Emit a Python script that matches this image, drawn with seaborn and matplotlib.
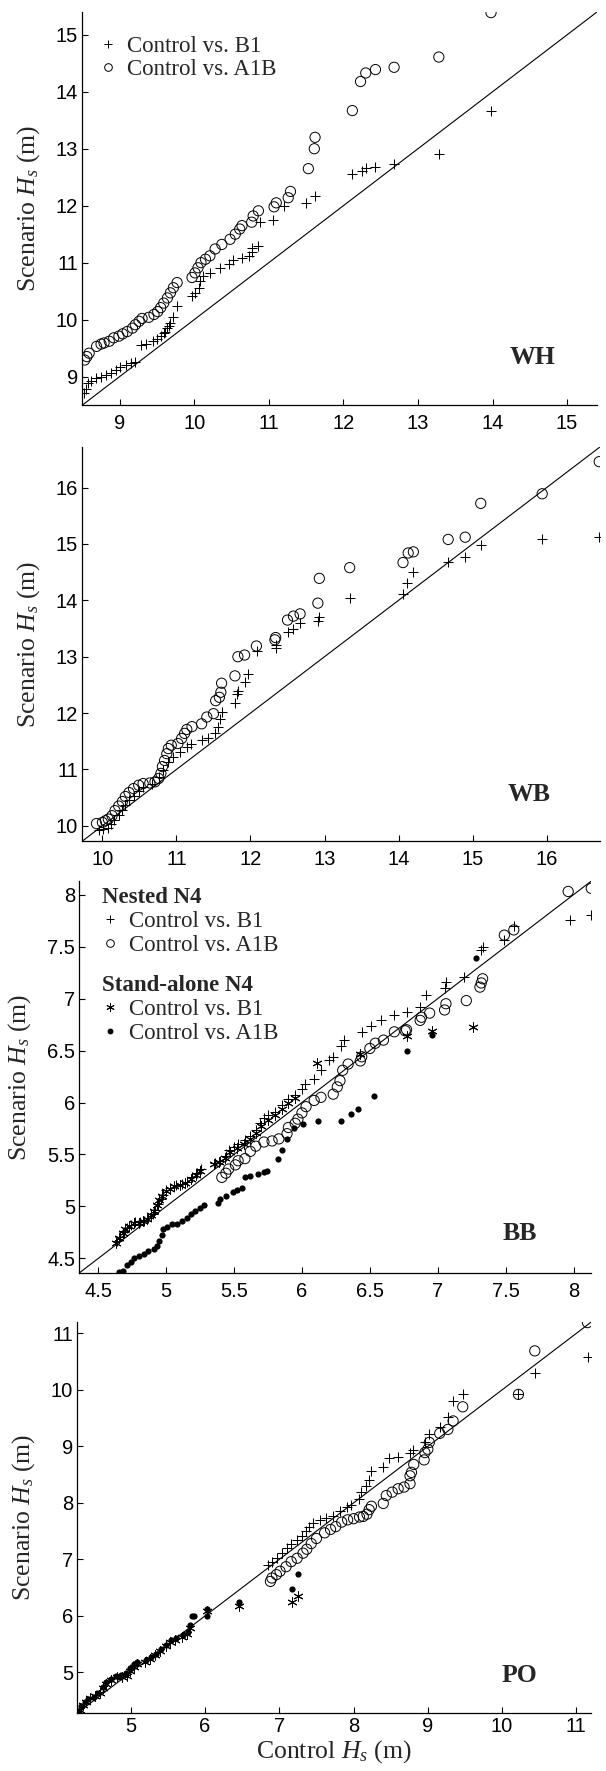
import matplotlib
matplotlib.use("Agg")
import matplotlib.pyplot as plt
import seaborn as sns
from matplotlib.lines import Line2D
from matplotlib.ticker import FuncFormatter

# ---- data (quantile pairs) ----
# WH
wh_b1_x = [8.52, 8.55, 8.57, 8.61, 8.68, 8.75, 8.81, 8.88, 8.95, 9.01, 9.08, 9.15, 9.21, 9.28, 9.35,
           9.44, 9.50, 9.55, 9.59, 9.61, 9.64, 9.66, 9.68, 9.72, 9.77, 9.97, 10.01, 10.06, 10.08, 10.12,
           10.21, 10.35, 10.47, 10.52, 10.64, 10.74, 10.77, 10.78, 10.85, 10.88, 11.05, 11.21, 11.50,
           11.62, 12.11, 12.25, 12.30, 12.43, 12.68, 13.28, 13.98]
wh_b1_y = [8.71, 8.79, 8.88, 8.92, 8.97, 9.00, 9.03, 9.07, 9.12, 9.16, 9.21, 9.24, 9.26, 9.56, 9.57,
           9.62, 9.66, 9.71, 9.76, 9.78, 9.85, 9.88, 9.94, 10.04, 10.24, 10.41, 10.47, 10.56, 10.68, 10.76,
           10.81, 10.90, 10.97, 11.04, 11.09, 11.12, 11.18, 11.26, 11.29, 11.71, 11.74, 12.00, 12.04,
           12.17, 12.55, 12.61, 12.67, 12.68, 12.73, 12.91, 13.67]
wh_a1b_x = [8.53, 8.56, 8.59, 8.69, 8.75, 8.79, 8.86, 8.92, 8.99, 9.04, 9.10, 9.17, 9.21, 9.26, 9.30,
            9.39, 9.46, 9.51, 9.55, 9.59, 9.64, 9.68, 9.72, 9.77, 9.97, 10.01, 10.05, 10.09, 10.15, 10.21,
            10.28, 10.37, 10.48, 10.55, 10.61, 10.64, 10.77, 10.79, 10.86, 11.07, 11.10, 11.26, 11.29,
            11.53, 11.61, 11.62, 12.12, 12.23, 12.30, 12.43, 12.68, 13.28, 13.98]
wh_a1b_y = [9.29, 9.35, 9.41, 9.53, 9.57, 9.59, 9.62, 9.68, 9.71, 9.75, 9.79, 9.85, 9.91, 9.97, 10.02,
            10.04, 10.09, 10.14, 10.21, 10.29, 10.38, 10.47, 10.56, 10.65, 10.74, 10.82, 10.91, 11.00, 11.06,
            11.12, 11.24, 11.32, 11.41, 11.50, 11.59, 11.65, 11.71, 11.82, 11.91, 11.98, 12.05, 12.14,
            12.25, 12.65, 13.00, 13.20, 13.67, 14.18, 14.33, 14.39, 14.43, 14.61, 15.39]

# WB
wb_b1_x = [9.95, 10.01, 10.07, 10.12, 10.16, 10.22, 10.26, 10.31, 10.36, 10.42, 10.49, 10.55, 10.67,
           10.76, 10.82, 10.89, 10.96, 11.05, 11.14, 11.20, 11.34, 11.43, 11.52, 11.56, 11.59, 11.61,
           11.79, 11.82, 11.83, 11.93, 11.97, 12.09, 12.34, 12.34, 12.50, 12.58, 12.67, 12.91, 12.92,
           13.34, 14.06, 14.12, 14.20, 14.67, 14.90, 15.11, 15.94, 16.71]
wb_b1_y = [9.93, 9.94, 9.96, 10.04, 10.11, 10.19, 10.28, 10.37, 10.46, 10.53, 10.62, 10.69, 10.74,
           10.87, 10.99, 11.14, 11.22, 11.31, 11.40, 11.45, 11.53, 11.55, 11.64, 11.75, 11.90, 12.02,
           12.18, 12.33, 12.39, 12.55, 12.69, 13.11, 13.16, 13.21, 13.44, 13.50, 13.60, 13.64, 13.70,
           14.04, 14.11, 14.30, 14.50, 14.68, 14.77, 14.99, 15.09, 15.12]
wb_a1b_x = [9.92, 10.00, 10.04, 10.08, 10.13, 10.17, 10.22, 10.27, 10.31, 10.36, 10.42, 10.49, 10.55,
            10.64, 10.71, 10.76, 10.79, 10.81, 10.84, 10.87, 10.89, 10.93, 11.02, 11.07, 11.11, 11.14,
            11.21, 11.34, 11.41, 11.50, 11.53, 11.58, 11.60, 11.61, 11.79, 11.83, 11.92, 12.08, 12.33,
            12.34, 12.50, 12.58, 12.67, 12.91, 12.93, 13.34, 14.06, 14.13, 14.20, 14.67, 14.90, 15.11,
            15.94, 16.71]
wb_a1b_y = [10.04, 10.06, 10.09, 10.12, 10.18, 10.27, 10.35, 10.43, 10.52, 10.59, 10.66, 10.72, 10.75,
            10.76, 10.78, 10.84, 10.93, 11.05, 11.16, 11.28, 11.37, 11.43, 11.46, 11.55, 11.64, 11.71,
            11.76, 11.81, 11.93, 11.99, 12.22, 12.28, 12.37, 12.53, 12.66, 13.00, 13.03, 13.19, 13.30,
            13.34, 13.65, 13.72, 13.76, 13.95, 14.39, 14.58, 14.67, 14.84, 14.86, 15.08, 15.12, 15.72,
            15.89, 16.46]

# BB
bb_nb1_x = [4.64, 4.66, 4.69, 4.71, 4.74, 4.77, 4.81, 4.84, 4.87, 4.90, 4.92, 4.94, 4.96, 4.98, 5.00,
            5.03, 5.07, 5.12, 5.15, 5.19, 5.23, 5.26, 5.36, 5.40, 5.44, 5.46, 5.50, 5.53, 5.58, 5.62,
            5.66, 5.69, 5.72, 5.75, 5.80, 5.85, 5.90, 5.95, 6.00, 6.02, 6.09, 6.14, 6.20, 6.23, 6.29,
            6.31, 6.44, 6.51, 6.58, 6.68, 6.77, 6.87, 6.91, 7.05, 7.06, 7.19, 7.32, 7.33, 7.49, 7.56,
            7.97, 8.13]
bb_nb1_y = [4.67, 4.71, 4.75, 4.79, 4.82, 4.85, 4.85, 4.86, 4.89, 4.93, 4.97, 5.02, 5.07, 5.11, 5.16,
            5.18, 5.21, 5.22, 5.24, 5.28, 5.32, 5.36, 5.42, 5.44, 5.49, 5.54, 5.57, 5.60, 5.64, 5.68,
            5.74, 5.80, 5.85, 5.88, 5.91, 5.98, 6.03, 6.07, 6.13, 6.18, 6.23, 6.31, 6.41, 6.44, 6.54,
            6.60, 6.68, 6.74, 6.79, 6.84, 6.87, 6.92, 7.03, 7.10, 7.16, 7.21, 7.47, 7.50, 7.56, 7.70,
            7.76, 7.80]
bb_na1b_x = [5.41, 5.44, 5.46, 5.51, 5.53, 5.58, 5.62, 5.66, 5.72, 5.78, 5.83, 5.89, 5.90, 5.95, 5.97,
             6.00, 6.03, 6.09, 6.14, 6.23, 6.26, 6.28, 6.30, 6.34, 6.43, 6.44, 6.50, 6.54, 6.60, 6.68,
             6.76, 6.77, 6.87, 6.88, 6.94, 7.05, 7.06, 7.21, 7.31, 7.32, 7.33, 7.49, 7.56, 7.96, 8.13]
bb_na1b_y = [5.28, 5.32, 5.36, 5.40, 5.44, 5.46, 5.53, 5.58, 5.62, 5.63, 5.65, 5.70, 5.76, 5.80, 5.84,
             5.90, 5.96, 6.02, 6.05, 6.08, 6.15, 6.21, 6.31, 6.37, 6.40, 6.44, 6.52, 6.57, 6.60, 6.68,
             6.69, 6.70, 6.79, 6.82, 6.86, 6.89, 6.95, 6.98, 7.11, 7.15, 7.19, 7.61, 7.66, 8.03, 8.06]
bb_sb1_x = [4.63, 4.65, 4.68, 4.70, 4.73, 4.76, 4.80, 4.83, 4.86, 4.89, 4.91, 4.93, 4.95, 4.97, 5.00,
            5.03, 5.06, 5.10, 5.14, 5.18, 5.22, 5.25, 5.35, 5.39, 5.43, 5.47, 5.52, 5.57, 5.62, 5.66,
            5.70, 5.75, 5.80, 5.85, 5.90, 5.95, 6.11, 6.43, 6.77, 6.96, 7.26]
bb_sb1_y = [4.65, 4.70, 4.74, 4.78, 4.81, 4.84, 4.84, 4.86, 4.88, 4.92, 4.96, 5.01, 5.06, 5.10, 5.15,
            5.17, 5.20, 5.21, 5.23, 5.26, 5.30, 5.34, 5.41, 5.43, 5.47, 5.52, 5.56, 5.60, 5.65, 5.71,
            5.77, 5.83, 5.88, 5.94, 6.00, 6.04, 6.38, 6.47, 6.64, 6.69, 6.73]
bb_sa1b_x = [4.65, 4.68, 4.71, 4.74, 4.76, 4.80, 4.84, 4.87, 4.91, 4.93, 4.95, 4.97, 4.98, 5.01, 5.04,
             5.08, 5.12, 5.15, 5.18, 5.21, 5.25, 5.28, 5.38, 5.40, 5.44, 5.49, 5.52, 5.56, 5.58, 5.62,
             5.68, 5.72, 5.74, 5.82, 5.85, 5.89, 5.94, 6.01, 6.12, 6.29, 6.36, 6.41, 6.53, 6.77, 6.96,
             7.28]
bb_sa1b_y = [4.37, 4.38, 4.44, 4.47, 4.50, 4.52, 4.54, 4.57, 4.59, 4.62, 4.67, 4.73, 4.78, 4.80, 4.83,
             4.83, 4.86, 4.89, 4.93, 4.96, 4.99, 5.01, 5.03, 5.07, 5.10, 5.14, 5.16, 5.18, 5.28, 5.29,
             5.31, 5.33, 5.34, 5.46, 5.54, 5.65, 5.75, 5.79, 5.82, 5.82, 5.89, 5.94, 6.06, 6.50, 6.65,
             7.39]

# PO
po_nb1_x = [6.85, 6.90, 6.97, 7.03, 7.11, 7.16, 7.24, 7.30, 7.36, 7.40, 7.45, 7.55, 7.63, 7.72, 7.82,
            7.91, 7.97, 8.07, 8.10, 8.17, 8.21, 8.24, 8.39, 8.48, 8.60, 8.76, 8.80, 8.96, 9.02, 9.17,
            9.27, 9.34, 9.47, 10.22, 10.44, 11.15]
po_nb1_y = [6.90, 6.96, 7.02, 7.11, 7.20, 7.28, 7.34, 7.41, 7.51, 7.58, 7.65, 7.69, 7.74, 7.76, 7.86,
            7.92, 7.96, 8.06, 8.19, 8.29, 8.40, 8.56, 8.63, 8.79, 8.81, 8.88, 8.93, 9.07, 9.22, 9.34,
            9.52, 9.80, 9.92, 9.93, 10.30, 10.58]
po_na1b_x = [6.88, 6.90, 6.96, 7.01, 7.09, 7.16, 7.24, 7.32, 7.37, 7.43, 7.50, 7.61, 7.69, 7.76, 7.84,
             7.92, 8.00, 8.08, 8.13, 8.18, 8.21, 8.24, 8.40, 8.44, 8.52, 8.60, 8.68, 8.76, 8.76, 8.78,
             8.81, 8.95, 8.96, 9.00, 9.02, 9.16, 9.27, 9.34, 9.47, 10.22, 10.44, 11.15]
po_na1b_y = [6.61, 6.67, 6.73, 6.79, 6.87, 6.96, 7.02, 7.11, 7.18, 7.28, 7.37, 7.47, 7.53, 7.58, 7.66,
             7.70, 7.72, 7.75, 7.76, 7.80, 7.88, 7.94, 7.99, 8.13, 8.19, 8.25, 8.28, 8.34, 8.48, 8.54,
             8.68, 8.76, 8.89, 8.95, 9.07, 9.23, 9.30, 9.45, 9.70, 9.92, 10.69, 11.19]
po_sb1_x = [4.31, 4.36, 4.40, 4.45, 4.52, 4.58, 4.63, 4.67, 4.74, 4.81, 4.88, 4.95, 4.99, 5.04, 5.08,
            5.19, 5.26, 5.33, 5.40, 5.47, 5.53, 5.60, 5.69, 5.76, 5.80, 6.02, 6.46, 7.17, 7.25]
po_sb1_y = [4.33, 4.42, 4.48, 4.54, 4.58, 4.63, 4.72, 4.80, 4.86, 4.91, 4.92, 4.94, 5.02, 5.10, 5.15,
            5.19, 5.24, 5.30, 5.38, 5.46, 5.54, 5.58, 5.63, 5.68, 5.78, 6.08, 6.17, 6.24, 6.35]
po_sa1b_x = [4.30, 4.33, 4.38, 4.43, 4.50, 4.56, 4.62, 4.66, 4.73, 4.80, 4.87, 4.94, 4.99, 5.04, 5.08,
             5.20, 5.27, 5.34, 5.41, 5.48, 5.54, 5.61, 5.70, 5.77, 5.80, 5.83, 5.85, 6.02, 6.03, 6.46,
             7.17, 7.25]
po_sa1b_y = [4.32, 4.40, 4.47, 4.53, 4.57, 4.63, 4.74, 4.83, 4.89, 4.94, 4.95, 4.99, 5.07, 5.14, 5.19,
             5.22, 5.27, 5.33, 5.41, 5.49, 5.57, 5.61, 5.66, 5.72, 5.84, 5.99, 6.00, 6.00, 6.12, 6.24,
             6.48, 6.74]

panel_names = ["WH", "WB", "BB", "PO"]
panel_lims = [(8.5, 15.4), (9.73, 16.72), (4.36, 8.13), (4.28, 11.2)]
panel_ticks = [[9, 10, 11, 12, 13, 14, 15],
               [10, 11, 12, 13, 14, 15, 16],
               [4.5, 5, 5.5, 6, 6.5, 7, 7.5, 8],
               [5, 6, 7, 8, 9, 10, 11]]
legend_b1 = "Control vs. B1"
legend_a1b = "Control vs. A1B"

# ---- style ----
sns.set_style("ticks")
plt.rcParams["font.family"] = ["Liberation Sans", "DejaVu Sans"]
plt.rcParams["mathtext.fontset"] = "custom"
plt.rcParams["mathtext.rm"] = "Liberation Serif"
plt.rcParams["mathtext.it"] = "Liberation Serif:italic"
plt.rcParams["xtick.direction"] = "in"
plt.rcParams["ytick.direction"] = "in"
plt.rcParams["axes.linewidth"] = 0.9
plt.rcParams["axes.edgecolor"] = "black"

SERIF = "Liberation Serif"
fig = plt.figure(figsize=(6.06, 17.71), dpi=100)

# axes boxes in figure fraction [left, bottom, width, height]
boxes = [[0.136, 0.7713, 0.849, 0.2219],
         [0.136, 0.5251, 0.854, 0.2225],
         [0.1307, 0.2812, 0.845, 0.2213],
         [0.1276, 0.0327, 0.848, 0.2208]]
label_pos = [(0.875, 0.12), (0.864, 0.117), (0.861, 0.102), (0.861, 0.097)]
xpads = [6.5, 6.5, 6.5, 2.5]

plus_kw = dict(marker="+", s=62, color="black", linewidth=0.75)
circ_kw = dict(marker="o", s=54, facecolor="none", edgecolor="black", linewidth=0.7)
star_kw = dict(marker=(6, 2, 0), s=45, color="black", linewidth=0.7)
dot_kw = dict(marker="o", s=20, color="black", edgecolor="black", linewidth=0)

panel_data = [
    [(wh_b1_x, wh_b1_y, plus_kw), (wh_a1b_x, wh_a1b_y, circ_kw)],
    [(wb_b1_x, wb_b1_y, plus_kw), (wb_a1b_x, wb_a1b_y, circ_kw)],
    [(bb_nb1_x, bb_nb1_y, plus_kw), (bb_na1b_x, bb_na1b_y, circ_kw),
     (bb_sb1_x, bb_sb1_y, star_kw), (bb_sa1b_x, bb_sa1b_y, dot_kw)],
    [(po_nb1_x, po_nb1_y, plus_kw), (po_na1b_x, po_na1b_y, circ_kw),
     (po_sb1_x, po_sb1_y, star_kw), (po_sa1b_x, po_sa1b_y, dot_kw)],
]

fmt = FuncFormatter(lambda v, p: "%g" % v)
axes = []
for i in range(4):
    ax = fig.add_axes(boxes[i])
    axes.append(ax)
    lo, hi = panel_lims[i]
    ax.axline((lo, lo), slope=1, color="black", lw=0.8, zorder=1)
    for xs, ys, kw in panel_data[i]:
        sns.scatterplot(x=xs, y=ys, ax=ax, zorder=3, **kw)
    ax.set_xlim(lo, hi)
    ax.set_ylim(lo, hi)
    ax.set_xticks(panel_ticks[i])
    ax.set_yticks(panel_ticks[i])
    ax.xaxis.set_major_formatter(fmt)
    ax.yaxis.set_major_formatter(fmt)
    ax.tick_params(axis="both", labelsize=14.5, length=4, width=0.8, colors="black")
    ax.tick_params(axis="y", pad=3)
    ax.tick_params(axis="x", pad=xpads[i])
    sns.despine(ax=ax)
    ax.set_ylabel("Scenario $H_s$ (m)", family=SERIF, fontsize=18.5, labelpad=10)
    ax.text(label_pos[i][0], label_pos[i][1], panel_names[i], transform=ax.transAxes,
            ha="center", va="center", family=SERIF, fontweight="bold", fontsize=18.5)

axes[3].set_xlabel("Control $H_s$ (m)", family=SERIF, fontsize=18.5, labelpad=2)

# legends
h_plus = Line2D([], [], ls="none", marker="+", ms=6, mew=0.7, color="black")
h_circ = Line2D([], [], ls="none", marker="o", ms=5.5, mfc="none", mec="black", mew=0.7)
h_star = Line2D([], [], ls="none", marker=(6, 2, 0), ms=6, mew=0.7, color="black")
h_dot = Line2D([], [], ls="none", marker="o", ms=3.2, color="black")

leg_kw = dict(frameon=False, handlelength=0.7, handletextpad=0.45, labelspacing=0.12,
              borderaxespad=0, borderpad=0, prop={"family": SERIF, "size": 16.5})

axes[0].legend([h_plus, h_circ], [legend_b1, legend_a1b], loc="upper left",
               bbox_to_anchor=(0.035, 0.94), **leg_kw)

tprop = {"family": SERIF, "size": 16.5, "weight": "bold"}
leg1 = axes[2].legend([h_plus, h_circ], [legend_b1, legend_a1b], loc="upper left",
                      bbox_to_anchor=(0.045, 0.985), title="Nested N4",
                      title_fontproperties=tprop, alignment="left", **leg_kw)
axes[2].add_artist(leg1)
axes[2].legend([h_star, h_dot], [legend_b1, legend_a1b], loc="upper left",
               bbox_to_anchor=(0.045, 0.76), title="Stand-alone N4",
               title_fontproperties=tprop, alignment="left", **leg_kw)

fig.savefig("out.png", dpi=100)
